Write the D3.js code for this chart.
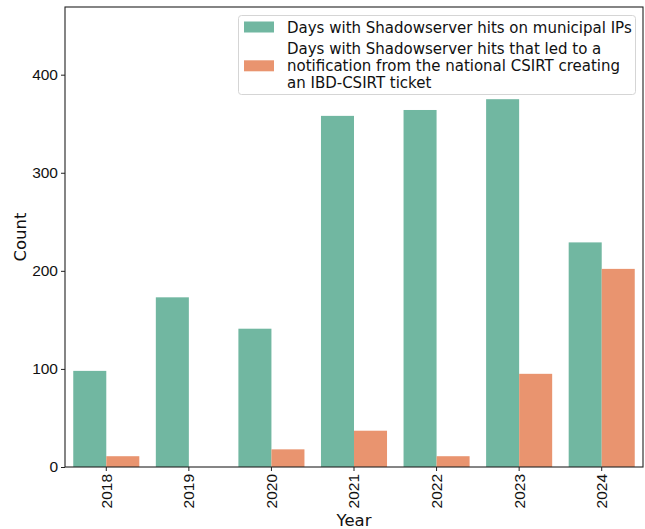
<!DOCTYPE html>
<html>
<head>
<meta charset="utf-8">
<script src="https://cdn.jsdelivr.net/npm/d3@7"></script>
<style>
  html, body { margin: 0; padding: 0; background: #fff; }
  svg { display: block; font-family: "DejaVu Sans", sans-serif; }
</style>
</head>
<body>
<svg id="chart" width="645" height="529"></svg>
<script>
// Yearly counts of days with Shadowserver hits
const years = ["2018", "2019", "2020", "2021", "2022", "2023", "2024"];
const hitDays = [98, 173, 141, 358, 364, 375, 229];
const ticketDays = [11, 0, 18, 37, 11, 95, 202];
const seriesNames = [
  "Days with Shadowserver hits on municipal IPs",
  "Days with Shadowserver hits that led to a\nnotification from the national CSIRT creating\nan IBD-CSIRT ticket"
];
const seriesColors = ["#71b7a1", "#e9946f"];
const yTicks = [0, 100, 200, 300, 400];

const svg = d3.select("#chart");
const margin = { left: 65, right: 2, top: 7, bottom: 62 };
const W = 645, H = 529;
const x0 = margin.left, x1 = W - margin.right;
const y0 = H - margin.bottom, y1 = margin.top;

const x = d3.scaleBand().domain(years).range([x0, x1]).paddingInner(0.2).paddingOuter(0.1);
const xs = d3.scaleBand().domain([0, 1]).range([0, x.bandwidth()]);
const y = d3.scaleLinear().domain([0, 469]).range([y0, y1]);

const series = [hitDays, ticketDays];
series.forEach((vals, si) => {
  svg.append("g").selectAll("rect").data(years).join("rect")
    .attr("x", d => x(d) + xs(si))
    .attr("width", xs.bandwidth())
    .attr("y", (d, i) => y(vals[i]))
    .attr("height", (d, i) => y(0) - y(vals[i]))
    .attr("fill", seriesColors[si]);
});

// axes
const xAxis = svg.append("g").attr("transform", `translate(0,${y0})`)
  .call(d3.axisBottom(x).tickSize(4).tickSizeOuter(0));
xAxis.select(".domain").remove();
xAxis.selectAll("line").attr("stroke", "#222").attr("stroke-width", 1);
xAxis.selectAll("text")
  .attr("font-size", 15.5).attr("fill", "#111")
  .attr("transform", "rotate(-90)")
  .attr("text-anchor", "end")
  .attr("x", -7).attr("y", 0).attr("dy", "0.35em");

const yAxis = svg.append("g").attr("transform", `translate(${x0},0)`)
  .call(d3.axisLeft(y).tickValues(yTicks).tickSize(4).tickSizeOuter(0));
yAxis.select(".domain").remove();
yAxis.selectAll("line").attr("stroke", "#222");
yAxis.selectAll("text").attr("font-size", 15.5).attr("fill", "#111").attr("x", -7);

// frame
svg.append("rect")
  .attr("x", x0).attr("y", y1)
  .attr("width", x1 - x0).attr("height", y0 - y1)
  .attr("fill", "none").attr("stroke", "#222").attr("stroke-width", 1.1);

// axis titles
svg.append("text").attr("x", (x0 + x1) / 2).attr("y", 526)
  .attr("text-anchor", "middle").attr("font-size", 16.5).attr("fill", "#111").text("Year");
svg.append("text")
  .attr("transform", `translate(26,${(y0 + y1) / 2}) rotate(-90)`)
  .attr("text-anchor", "middle").attr("font-size", 16.5).attr("fill", "#111").text("Count");

// legend
const lg = svg.append("g");
lg.append("rect").attr("x", 238.5).attr("y", 15.5).attr("width", 397).attr("height", 79)
  .attr("rx", 3).attr("fill", "#fff").attr("fill-opacity", 0.8)
  .attr("stroke", "#d5d5d5").attr("stroke-width", 1);
const lineH = 17;
const entries = [
  { lines: seriesNames[0].split("\n"), firstBase: 32.5 },
  { lines: seriesNames[1].split("\n"), firstBase: 54.3 }
];
entries.forEach((e, i) => {
  const n = e.lines.length;
  const center = e.firstBase + (n - 1) * lineH / 2 - 5.5;
  lg.append("rect").attr("x", 244).attr("y", center - 5.5).attr("width", 30).attr("height", 11)
    .attr("fill", seriesColors[i]);
  const t = lg.append("text").attr("font-size", 15).attr("fill", "#111");
  e.lines.forEach((ln, k) => {
    t.append("tspan").attr("x", 287).attr("y", e.firstBase + k * lineH).text(ln);
  });
});
</script>
</body>
</html>
